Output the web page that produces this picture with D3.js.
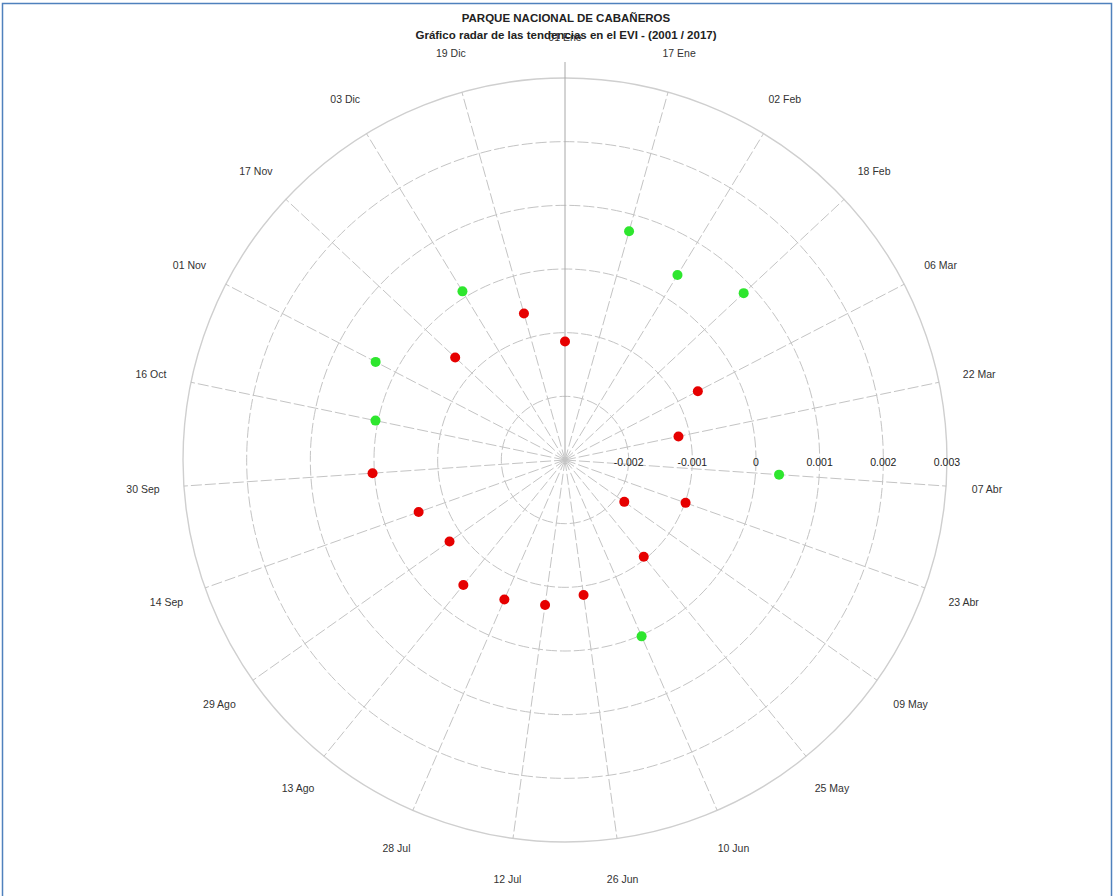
<!DOCTYPE html>
<html>
<head>
<meta charset="utf-8">
<script src="https://cdn.jsdelivr.net/npm/d3@7"></script>
<style>
  html, body { margin: 0; padding: 0; background: #fff; }
  svg { display: block; font-family: "Liberation Sans", Arial, sans-serif; }
</style>
</head>
<body>
<svg id="chart" width="1116" height="896"></svg>
<script>
// ---- data ----
const categories = ["01 Ene","17 Ene","02 Feb","18 Feb","06 Mar","22 Mar","07 Abr","23 Abr","09 May","25 May","10 Jun","26 Jun","12 Jul","28 Jul","13 Ago","29 Ago","14 Sep","30 Sep","16 Oct","01 Nov","17 Nov","03 Dic","19 Dic"];
const values = [-0.00114, 0.00073, 0.00040, 0.00084, -0.00065, -0.00118, 0.00037, -0.00099, -0.00186, -0.00104, 0.00002, -0.00086, -0.00070, -0.00061, -0.00047, -0.00078, -0.00056, 0.00003, 0.00004, 0.00035, -0.00064, 0.00010, -0.00061];
const trend = ["neg","pos","pos","pos","neg","neg","pos","neg","neg","neg","pos","neg","neg","neg","neg","neg","neg","neg","pos","pos","neg","pos","neg"];
const radialTicks = [-0.002, -0.001, 0, 0.001, 0.002, 0.003];
const radialTickLabels = ["-0.002", "-0.001", "0", "0.001", "0.002", "0.003"];
const title = "PARQUE NACIONAL DE CABAÑEROS";
const subtitle = "Gráfico radar de las tendencias en el EVI - (2001 / 2017)";

// ---- layout ----
const W = 1116, H = 896;
const cx = 565, cy = 460, R = 382, labelR = 423;
const svg = d3.select("#chart");

svg.append("rect").attr("x", 2.5).attr("y", 3.5).attr("width", 1109).attr("height", 900)
  .attr("fill", "none").attr("stroke", "#4f81bd").attr("stroke-width", 1.5);

const r = d3.scaleLinear().domain([-0.003, 0.003]).range([0, R]);
const ang = d3.scaleBand().domain(categories).range([0, 2 * Math.PI]).paddingInner(0).paddingOuter(0);
const color = d3.scaleOrdinal().domain(["neg", "pos"]).range(["#e60000", "#2ee62e"]);

const g = svg.append("g").attr("transform", `translate(${cx},${cy})`);
const px = (a, rr) => rr * Math.sin(a);
const py = (a, rr) => -rr * Math.cos(a);

// circles
g.selectAll("circle.grid").data(radialTicks).join("circle")
  .attr("class", "grid")
  .attr("r", d => r(d))
  .attr("fill", "none")
  .attr("stroke", (d, i) => i === radialTicks.length - 1 ? "#cfcfcf" : "#c4c4c4")
  .attr("stroke-width", (d, i) => i === radialTicks.length - 1 ? 1.4 : 1)
  .attr("stroke-dasharray", (d, i) => i === radialTicks.length - 1 ? null : "11,3");

// spokes
g.selectAll("line.spoke").data(categories).join("line")
  .attr("class", "spoke")
  .attr("x1", 0).attr("y1", 0)
  .attr("x2", d => px(ang(d), d === categories[0] ? R + 16 : R))
  .attr("y2", d => py(ang(d), d === categories[0] ? R + 16 : R))
  .attr("stroke", d => d === categories[0] ? "#a8a8a8" : "#c4c4c4")
  .attr("stroke-width", 1)
  .attr("stroke-dasharray", d => d === categories[0] ? null : "11,3");

// radial tick labels
g.selectAll("text.rtick").data(radialTicks).join("text")
  .attr("class", "rtick")
  .attr("x", d => r(d))
  .attr("y", 6)
  .attr("text-anchor", "middle")
  .attr("font-size", 10.5)
  .attr("fill", "#222")
  .text((d, i) => radialTickLabels[i]);

// category labels
g.selectAll("text.cat").data(categories).join("text")
  .attr("class", "cat")
  .attr("x", d => px(ang(d), labelR))
  .attr("y", d => py(ang(d), labelR) + 4)
  .attr("text-anchor", "middle")
  .attr("font-size", 10.5)
  .attr("fill", "#333")
  .text(d => d);

// points
g.selectAll("circle.pt").data(categories).join("circle")
  .attr("class", "pt")
  .attr("cx", (d, i) => px(ang(d), r(values[i])))
  .attr("cy", (d, i) => py(ang(d), r(values[i])))
  .attr("r", 5)
  .attr("fill", (d, i) => color(trend[i]));

// titles
svg.append("text").attr("x", 566).attr("y", 22).attr("text-anchor", "middle")
  .attr("font-size", 11.5).attr("font-weight", "bold").attr("fill", "#222").text(title);
svg.append("text").attr("x", 566).attr("y", 39).attr("text-anchor", "middle")
  .attr("font-size", 11.5).attr("font-weight", "bold").attr("fill", "#222").text(subtitle);
</script>
</body>
</html>
